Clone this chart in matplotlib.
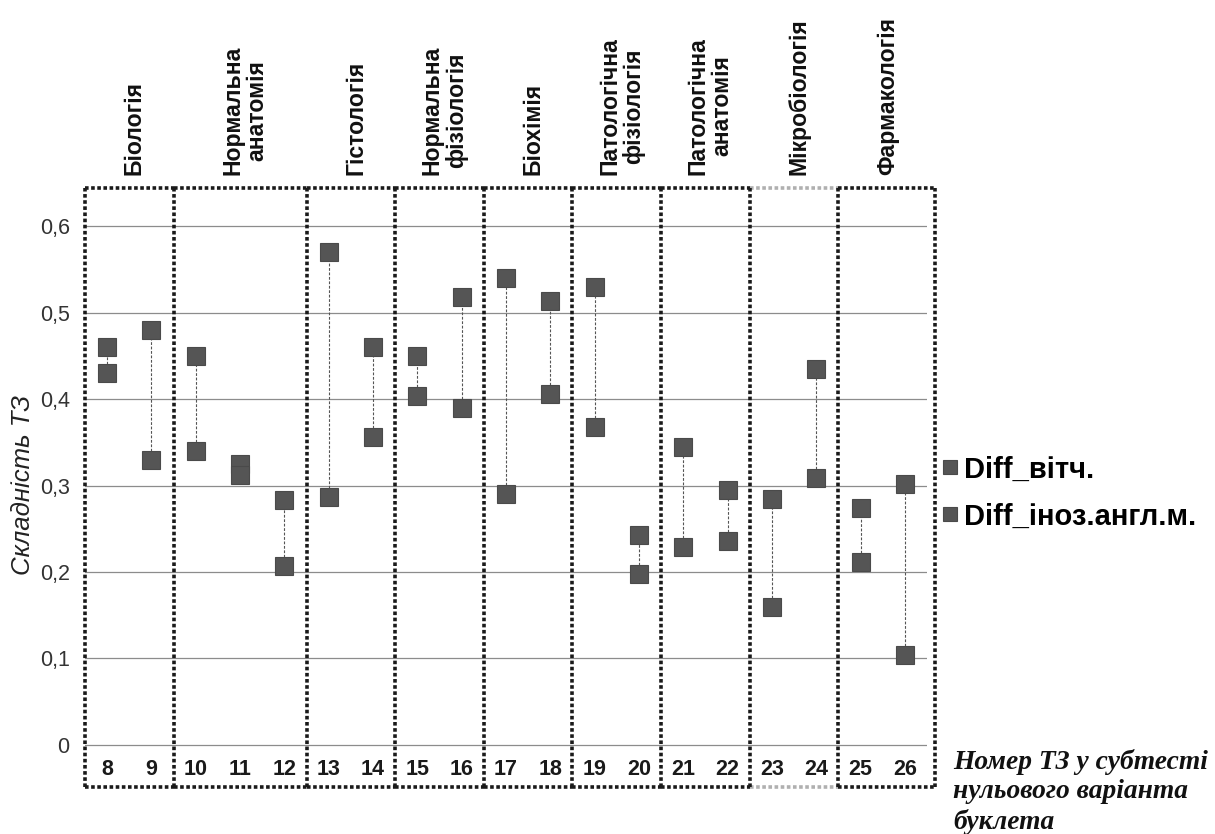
import matplotlib
matplotlib.use("Agg")
import matplotlib.pyplot as plt
import numpy as np
from matplotlib import font_manager


# Item numbers in the subtest and the two difficulty series
ITEMS = list(range(8, 27))
DIFF_VITCH = [0.46, 0.48, 0.45, 0.325, 0.283, 0.57, 0.46, 0.45, 0.518, 0.54,
              0.513, 0.53, 0.243, 0.345, 0.295, 0.284, 0.435, 0.274, 0.302]
DIFF_INOZ = [0.43, 0.33, 0.34, 0.312, 0.207, 0.287, 0.356, 0.403, 0.39, 0.29,
             0.406, 0.368, 0.198, 0.229, 0.236, 0.160, 0.309, 0.211, 0.104]

GROUP_NAMES = ["Біологія", "Нормальна\nанатомія", "Гістологія",
               "Нормальна\nфізіологія", "Біохімія", "Патологічна\nфізіологія",
               "Патологічна\nанатомія", "Мікробіологія", "Фармакологія"]
GROUP_SIZES = [2, 3, 2, 2, 2, 2, 2, 2, 2]

Y_TICKS = [0, 0.1, 0.2, 0.3, 0.4, 0.5, 0.6]
Y_TICK_LABELS = ["0", "0,1", "0,2", "0,3", "0,4", "0,5", "0,6"]

SERIES_LABELS = ["Diff_вітч.", "Diff_іноз.англ.м."]


installed = {f.name for f in font_manager.fontManager.ttflist}
if "Liberation Sans Narrow" in installed:
    NARROW, NARROW_SCALE = "Liberation Sans Narrow", 1.0
else:
    NARROW, NARROW_SCALE = "Liberation Sans", 0.85
SANS = "Liberation Sans"
SERIF = "Liberation Serif"

W, H = 1215, 834
fig = plt.figure(figsize=(W / 100, H / 100), dpi=100)
fig.patch.set_facecolor("white")
# axes box in pixels: x 85..927, y 188..787
ax = fig.add_axes([85 / W, (H - 787) / H, 842 / W, 599 / H])

n = len(ITEMS)
x = np.arange(n)
ax.set_xlim(-0.5, n - 0.5)
ax.set_ylim(-0.0486, 0.644)

for s in ax.spines.values():
    s.set_visible(False)
ax.set_xticks([])
ax.set_yticks(Y_TICKS, Y_TICK_LABELS)
ax.tick_params(axis="y", length=0, pad=11, labelsize=15.5, labelcolor="#333333")
for lbl in ax.get_yticklabels():
    lbl.set_family(SANS)

for yv in Y_TICKS:
    ax.axhline(yv, color="#8c8c8c", lw=0.9, zorder=1)

# dotted connectors between the two values of one item
lo = np.minimum(DIFF_VITCH, DIFF_INOZ)
hi = np.maximum(DIFF_VITCH, DIFF_INOZ)
ax.vlines(x, lo, hi, colors="#555555", linestyles=(0, (2.5, 1.5)), lw=0.8, zorder=2)

marker_kw = dict(ls="none", marker="s", ms=12.5, color="#555555", mec="#4a4a4a",
                 mew=0.8, zorder=3)
h1, = ax.plot(x, DIFF_VITCH, label=SERIES_LABELS[0], **marker_kw)
h2, = ax.plot(x, DIFF_INOZ, label=SERIES_LABELS[1], **marker_kw)

# item numbers inside the boxes, below zero
for i, item in enumerate(ITEMS):
    ax.text(i, -0.028, str(item), ha="center", va="center",
            fontsize=15.5, fontweight="bold", family=SANS, color="#1a1a1a")

# dotted boxes per subject
ends = np.cumsum(GROUP_SIZES) - 0.5
starts = np.concatenate([[-0.5], ends[:-1]])
ends = ends.astype(float)
ends[-1] += 0.18
xt = ax.get_xaxis_transform()
box_kw = dict(transform=xt, clip_on=False, lw=2.6, ls=(0, (1, 0.7)),
              zorder=4, solid_capstyle="butt")
for gi, (a, b) in enumerate(zip(starts, ends)):
    edge = "#b0b0b0" if GROUP_NAMES[gi] == "Мікробіологія" else "#1a1a1a"
    ax.plot([a, b], [1, 1], color=edge, **box_kw)
    ax.plot([a, b], [0, 0], color=edge, **box_kw)
for bx in list(starts) + [ends[-1]]:
    ax.plot([bx, bx], [0, 1], color="#1a1a1a", **box_kw)

# subject names above the boxes
for name, a, b in zip(GROUP_NAMES, starts, ends):
    b_mid = min(b, n - 0.5)
    ax.annotate(name, xy=((a + b_mid) / 2, 1), xycoords=xt,
                xytext=(3.5, 9.5), textcoords="offset points",
                rotation=90, ha="center", va="bottom", multialignment="center",
                fontsize=19.5 * NARROW_SCALE, fontweight="bold", family=NARROW,
                linespacing=1.05, color="#111111")

ax.legend(handles=[h1, h2], loc="center left",
          bbox_to_anchor=(943 / W, 1 - 493 / H), bbox_transform=fig.transFigure,
          frameon=False, prop=dict(family=SANS, weight="bold", size=21),
          handlelength=0.5, handletextpad=0.22, labelspacing=0.65,
          markerscale=0.85, borderpad=0, borderaxespad=0)

fig.text(23 / W, 1 - 485 / H, "Складність ТЗ", rotation=90, ha="center",
         va="center", style="italic", fontsize=18.5, family=SANS, color="#222222")

fig.text(953 / W, 1 - 749 / H, "Номер ТЗ у субтесті\nнульового варіанта\nбуклета",
         ha="left", va="top", family=SERIF, style="italic", weight="bold",
         fontsize=19.8, linespacing=1.22, color="#111111")

fig.savefig("out.png", dpi=100, facecolor="white")
